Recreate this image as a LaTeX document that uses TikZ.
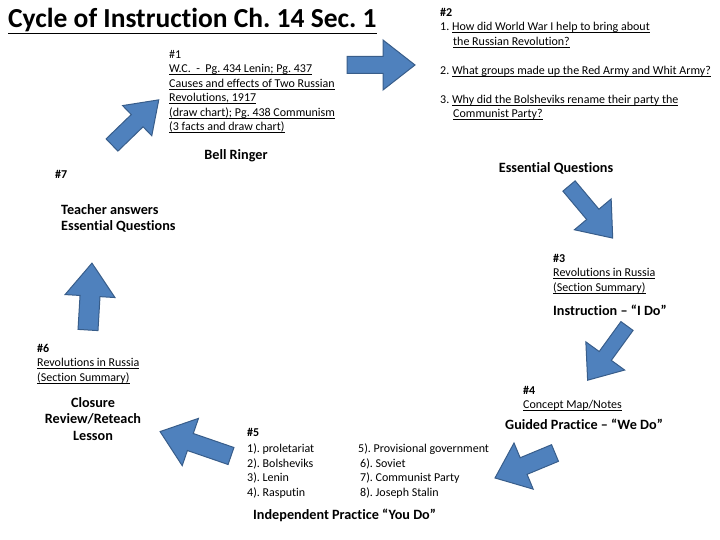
\documentclass[tikz,border=0pt]{standalone}
\usepackage{fontspec}
\setmainfont{Carlito}[Ligatures=NoCommon]
\usepackage{xcolor}
\usetikzlibrary{positioning}
\frenchspacing

\definecolor{arrowblue}{HTML}{4F81BD}
\definecolor{arrowedge}{HTML}{385D8A}

% underline at a fixed depth
\newsavebox{\ulinebox}
\newcommand{\uline}[1]{\sbox{\ulinebox}{#1}\rlap{\rule[-2pt]{\wd\ulinebox}{0.6pt}}\usebox{\ulinebox}}

% block arrow: tail, angle, length, shaft half width, head half width, head length
\newcommand{\cyclearrow}[6]{%
  \draw[blockarrow, shift={(#1)}, rotate=#2]
    (0,-#4) -- (#3-#6,-#4) -- (#3-#6,-#5) -- (#3,0) -- (#3-#6,#5) -- (#3-#6,#4) -- (0,#4) -- cycle;}

\begin{document}
\begin{tikzpicture}[
    x=1pt, y=-1pt,
    txt/.style={anchor=north west, inner sep=0pt, align=left, font=\fontsize{12}{14.5}\selectfont},
    stage/.style={inner sep=0pt, font=\fontsize{14.2}{16.8}\selectfont\bfseries},
    titletext/.style={anchor=north west, inner sep=0pt, font=\fontsize{27.5}{32}\selectfont\bfseries},
    blockarrow/.style={fill=arrowblue, draw=arrowedge, line width=1pt, line join=miter}
]
    \useasboundingbox (0,0) rectangle (720,540);

    \node[titletext] (title) at (8,8) {\underline{Cycle of Instruction Ch. 14 Sec. 1}};

    % step 1
    \node[txt] (bell) at (169,50) {\#1\\
      \uline{W.C.\ \ -\ \ Pg. 434 Lenin; Pg. 437}\\
      \uline{Causes and effects of Two Russian}\\
      \uline{Revolutions, 1917}\\
      \uline{(draw chart); Pg. 438 Communism}\\
      \uline{(3 facts and draw chart)}};
    \node[stage] (bellname) at (236,156) {Bell Ringer};

    % step 2
    \node[txt] (questions) at (440,8) {\textbf{\#2}\\
      1. \uline{How did World War I help to bring about}\\
      \hspace*{13pt}\uline{the Russian Revolution?}\\[14.5pt]
      2. \uline{What groups made up the Red Army and Whit Army?}\\[14.5pt]
      3. \uline{Why did the Bolsheviks rename their party the}\\
      \hspace*{13pt}\uline{Communist Party?}};
    \node[stage] (questionsname) at (556,168) {Essential Questions};

    % step 3
    \node[txt] (summary) at (553,254) {\textbf{\#3}\\
      \uline{Revolutions in Russia}\\
      \uline{(Section Summary)}};
    \node[stage, anchor=north west] (summaryname) at (553,305) {Instruction -- “I Do”};

    % step 4
    \node[txt] (conceptmap) at (523,386) {\textbf{\#4}\\
      \uline{Concept Map/Notes}};
    \node[stage, anchor=north west] (conceptmapname) at (505,419) {Guided Practice -- “We Do”};

    % step 5
    \node[txt] (terms) at (247,428) {\textbf{\#5}\\[2pt]
      \begin{tabular}[t]{@{}l@{}l@{}}
        \makebox[111pt][l]{1). proletariat} & 5). Provisional government\\
        2). Bolsheviks & \hspace{2pt}6). Soviet\\
        3). Lenin & \hspace{2pt}7). Communist Party\\
        4). Rasputin & \hspace{2pt}8). Joseph Stalin
      \end{tabular}};
    \node[stage, anchor=north west] (termsname) at (253,509) {Independent Practice “You Do”};

    % step 6
    \node[txt] (review) at (37,344) {\textbf{\#6}\\
      \uline{Revolutions in Russia}\\
      \uline{(Section Summary)}};
    \node[stage, align=center] (reviewname) at (93,419) {Closure\\Review/Reteach\\Lesson};

    % step 7
    \node[txt] (answers) at (55,170) {\textbf{\#7}};
    \node[stage, anchor=north west, align=left] (answersname) at (61,204) {Teacher answers\\Essential Questions};

    % arrows round the cycle
    \cyclearrow{347,65}{0}{68}{8.5}{25}{32}
    \cyclearrow{569,186}{-50}{68}{8}{24}{31}
    \cyclearrow{627,326}{234}{67}{7.5}{24}{30}
    \cyclearrow{555,453}{202.6}{65}{9}{25}{31}
    \cyclearrow{231,456}{161}{75}{9}{25}{32}
    \cyclearrow{88,330}{86.6}{67}{10}{25}{33}
    \cyclearrow{112,145}{44}{65}{8.5}{21}{30}
\end{tikzpicture}
\end{document}
